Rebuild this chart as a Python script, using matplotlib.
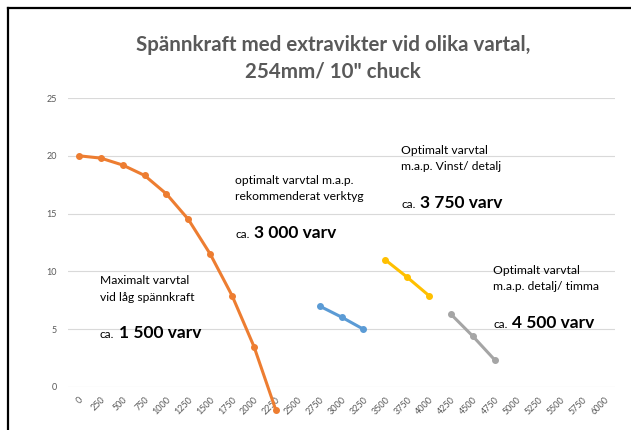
import matplotlib.pyplot as plt
from matplotlib.lines import Line2D

plt.rcParams['font.family'] = ['Lato', 'DejaVu Sans']

# varvtal (rpm) och spännkraft
varv_labels = [str(v) for v in range(0, 6001, 250)]

orange_x = [0, 250, 500, 750, 1000, 1250, 1500, 1750, 2000, 2250]
orange_y = [20, 19.8, 19.2, 18.3, 16.7, 14.5, 11.5, 7.9, 3.5, -2.0]

blue_x = [2750, 3000, 3250]
blue_y = [7.0, 6.05, 5.0]

yellow_x = [3500, 3750, 4000]
yellow_y = [11.0, 9.5, 7.9]

gray_x = [4250, 4500, 4750]
gray_y = [6.3, 4.4, 2.35]

W, H = 631, 430


def fx(px):
    return px / W


def fy(py):
    return 1 - py / H


fig = plt.figure(figsize=(W / 100, H / 100), dpi=100)
ax = fig.add_axes([fx(68), fy(387), fx(615) - fx(68), fy(98) - fy(387)])

serier = [(orange_x, orange_y, '#ED7D31'),
          (blue_x, blue_y, '#5B9BD5'),
          (yellow_x, yellow_y, '#FFC000'),
          (gray_x, gray_y, '#A5A5A5')]
for xs, ys, c in serier:
    ax.plot(xs, ys, color=c, lw=2.2, marker='o', ms=4, clip_on=False, zorder=3)

ax.set_xlim(-125, 6125)
ax.set_ylim(0, 25)
ax.set_yticks(range(0, 26, 5))
ax.set_xticks(range(0, 6001, 250))
ax.set_xticklabels(varv_labels, rotation=45, ha='right', rotation_mode='anchor')
ax.tick_params(axis='both', length=0, labelsize=6.5, labelcolor='#595959')
ax.tick_params(axis='y', pad=8)
ax.tick_params(axis='x', pad=6)
ax.grid(axis='y', color='#D9D9D9', lw=0.8)
ax.set_axisbelow(True)
for s in ax.spines.values():
    s.set_visible(False)

# titel
fig.text(fx(333), fy(45), 'Spännkraft med extravikter vid olika vartal,',
         ha='center', va='center', fontsize=14.8, color='#595959', fontweight='bold')
fig.text(fx(333), fy(72), '254mm/ 10" chuck',
         ha='center', va='center', fontsize=14.8, color='#595959', fontweight='bold')

# textrutor
rutor = [(100, 281, ['Maximalt varvtal', 'vid låg spännkraft'], 338, '1 500 varv'),
         (235, 180, ['optimalt varvtal m.a.p.', 'rekommenderat verktyg'], 238, '3 000 varv'),
         (401, 150, ['Optimalt varvtal', 'm.a.p. Vinst/ detalj'], 208, '3 750 varv'),
         (493, 270, ['Optimalt varvtal', 'm.a.p. detalj/ timma'], 328, '4 500 varv')]
for x, y, rader, yb, fet in rutor:
    for i, r in enumerate(rader):
        fig.text(fx(x), fy(y + i * 16.5), r, ha='left', va='center',
                 fontsize=8.7, color='#000000')
    t = fig.text(fx(x), fy(yb), 'ca.', ha='left', va='baseline', fontsize=8.5, color='#000000')
    ax.annotate(fet, xy=(1, fy(yb)), xycoords=(t, 'figure fraction'),
                xytext=(3.5, 0), textcoords='offset points', ha='left', va='baseline',
                fontsize=12.5, fontweight='bold', color='#000000', annotation_clip=False)

# svart ram
fig.add_artist(Line2D([fx(8), fx(8)], [0, fy(8)], color='black', lw=1.6))
fig.add_artist(Line2D([fx(8), 1], [fy(8), fy(8)], color='black', lw=1.6))

fig.savefig('out.png', dpi=100, facecolor='white')
